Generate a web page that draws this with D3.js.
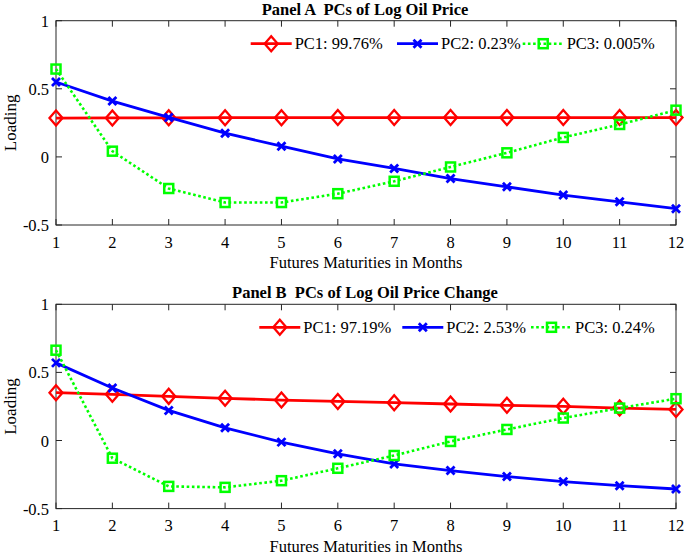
<!DOCTYPE html>
<html>
<head>
<meta charset="utf-8">
<script src="https://cdn.jsdelivr.net/npm/d3@7"></script>
<style>
  html, body { margin: 0; padding: 0; background: #fff; }
  svg { display: block; }
  text { font-family: "Liberation Serif", "Times New Roman", serif; fill: #000; white-space: pre; }
</style>
</head>
<body>
<svg id="chart" width="685" height="555"></svg>
<script>
// ---- data ----
const maturities = [1, 2, 3, 4, 5, 6, 7, 8, 9, 10, 11, 12];

const panelATitle = "Panel A  PCs of Log Oil Price";
const panelAPC1 = [0.285, 0.286, 0.287, 0.288, 0.288, 0.289, 0.289, 0.289, 0.289, 0.289, 0.289, 0.289];
const panelAPC2 = [0.55, 0.41, 0.29, 0.174, 0.079, -0.015, -0.085, -0.159, -0.22, -0.28, -0.33, -0.38];
const panelAPC3 = [0.645, 0.042, -0.232, -0.335, -0.335, -0.27, -0.179, -0.074, 0.03, 0.143, 0.238, 0.343];
const panelALegend = ["PC1: 99.76%", "PC2: 0.23%", "PC3: 0.005%"];

const panelBTitle = "Panel B  PCs of Log Oil Price Change";
const panelBPC1 = [0.351, 0.339, 0.324, 0.31, 0.297, 0.287, 0.278, 0.268, 0.258, 0.251, 0.238, 0.228];
const panelBPC2 = [0.57, 0.386, 0.221, 0.093, -0.012, -0.098, -0.172, -0.221, -0.265, -0.302, -0.332, -0.356];
const panelBPC3 = [0.663, -0.13, -0.337, -0.344, -0.295, -0.204, -0.11, -0.007, 0.081, 0.165, 0.238, 0.307];
const panelBLegend = ["PC1: 97.19%", "PC2: 2.53%", "PC3: 0.24%"];

const yTicks = [-0.5, 0, 0.5, 1];
const yTickLabels = ["-0.5", "0", "0.5", "1"];
const xLabel = "Futures Maturities in Months";
const yLabel = "Loading";

// ---- drawing ----
const svg = d3.select("#chart");
const colors = ["#ff0000", "#0000ff", "#00ff00"];
const axisColor = "#262626";

function drawPanel(top, title, series, legendLabels, legendXs) {
  const x = d3.scaleLinear().domain([1, 12]).range([56, 676]);
  const y = d3.scaleLinear().domain([-0.5, 1]).range([top + 204.3, top]);
  const g = svg.append("g");

  // title
  g.append("text").attr("x", 365).attr("y", top - 6)
    .attr("text-anchor", "middle").attr("font-weight", "bold")
    .attr("font-size", 16.5).text(title);

  // box
  g.append("rect").attr("x", x(1)).attr("y", y(1))
    .attr("width", x(12) - x(1)).attr("height", y(-0.5) - y(1))
    .attr("fill", "none").attr("stroke", axisColor).attr("stroke-width", 1);

  // x ticks (inside, bottom and top)
  maturities.forEach(m => {
    g.append("line").attr("x1", x(m)).attr("x2", x(m))
      .attr("y1", y(-0.5)).attr("y2", y(-0.5) - 6).attr("stroke", axisColor);
    g.append("line").attr("x1", x(m)).attr("x2", x(m))
      .attr("y1", y(1)).attr("y2", y(1) + 6).attr("stroke", axisColor);
    g.append("text").attr("x", x(m)).attr("y", y(-0.5) + 22.5)
      .attr("text-anchor", "middle").attr("font-size", 16.5).text(m);
  });
  yTicks.forEach((t, i) => {
    g.append("line").attr("x1", x(1)).attr("x2", x(1) + 6)
      .attr("y1", y(t)).attr("y2", y(t)).attr("stroke", axisColor);
    g.append("line").attr("x1", x(12)).attr("x2", x(12) - 6)
      .attr("y1", y(t)).attr("y2", y(t)).attr("stroke", axisColor);
    g.append("text").attr("x", x(1) - 7).attr("y", y(t) + 6)
      .attr("text-anchor", "end").attr("font-size", 16.5).text(yTickLabels[i]);
  });

  // axis labels
  g.append("text").attr("x", 366).attr("y", y(-0.5) + 43)
    .attr("text-anchor", "middle").attr("font-size", 16.5).text(xLabel);
  g.append("text")
    .attr("transform", `translate(16,${(y(1) + y(-0.5)) / 2}) rotate(-90)`)
    .attr("text-anchor", "middle").attr("font-size", 17).text(yLabel);

  const line = d3.line().x((d, i) => x(maturities[i])).y(d => y(d));

  series.forEach((s, k) => {
    const path = g.append("path").datum(s).attr("d", line)
      .attr("fill", "none").attr("stroke", colors[k]);
    if (k === 2) path.attr("stroke-width", 2.6).attr("stroke-dasharray", "2.6,2.6");
    else path.attr("stroke-width", 2.8);
    s.forEach((v, i) => drawMarker(g, k, x(maturities[i]), y(v)));
  });

  // legend
  const ly = y(1) + 23;
  legendLabels.forEach((lab, k) => {
    const lx = legendXs[k];
    const l = g.append("line").attr("x1", lx).attr("x2", lx + 41)
      .attr("y1", ly).attr("y2", ly).attr("stroke", colors[k]);
    if (k === 2) l.attr("stroke-width", 2.6).attr("stroke-dasharray", "2.6,2.6");
    else l.attr("stroke-width", 2.8);
    drawMarker(g, k, lx + 20.5, ly);
    g.append("text").attr("x", lx + 44).attr("y", ly + 5.5)
      .attr("font-size", 16.5).text(lab);
  });
}

function drawMarker(g, k, cx, cy) {
  if (k === 0) {
    g.append("path")
      .attr("d", `M${cx},${cy - 7.5}L${cx + 6.5},${cy}L${cx},${cy + 7.5}L${cx - 6.5},${cy}Z`)
      .attr("fill", "none").attr("stroke", colors[0]).attr("stroke-width", 2.3);
  } else if (k === 1) {
    const r = 4;
    g.append("path")
      .attr("d", `M${cx - r},${cy - r}L${cx + r},${cy + r}M${cx - r},${cy + r}L${cx + r},${cy - r}`)
      .attr("stroke", colors[1]).attr("stroke-width", 2.8);
  } else {
    g.append("rect").attr("x", cx - 4.5).attr("y", cy - 4.5)
      .attr("width", 9).attr("height", 9)
      .attr("fill", "none").attr("stroke", colors[2]).attr("stroke-width", 2.5);
  }
}

drawPanel(20.7, panelATitle, [panelAPC1, panelAPC2, panelAPC3], panelALegend, [250.7, 397, 522.7]);
drawPanel(304.3, panelBTitle, [panelBPC1, panelBPC2, panelBPC3], panelBLegend, [259.3, 402.3, 531]);
</script>
</body>
</html>
